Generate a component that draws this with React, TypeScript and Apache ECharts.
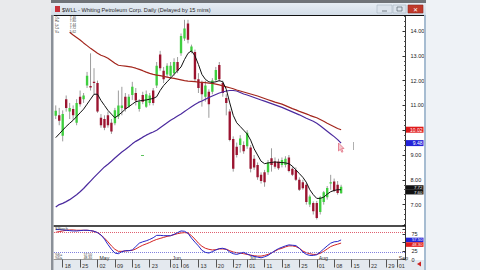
import React, { useEffect, useRef } from "react";
import * as echarts from "echarts";

// ---------- data ----------
const startDate = "2016-04-14";
const endDate = "2016-09-06";
const holidays = ["2016-05-30", "2016-07-04", "2016-09-05"];
const dayLabelDates = [
  "2016-04-18", "2016-04-25", "2016-05-02", "2016-05-09", "2016-05-16", "2016-05-23",
  "2016-06-01", "2016-06-06", "2016-06-13", "2016-06-20", "2016-06-27", "2016-07-01",
  "2016-07-11", "2016-07-18", "2016-07-25", "2016-08-01", "2016-08-08", "2016-08-15",
  "2016-08-22", "2016-08-29", "2016-09-01",
];
const monthLabelDates = ["2016-05-02", "2016-06-01", "2016-07-01", "2016-08-01", "2016-09-01"];
const monthLabelNames = ["May", "Jun", "Jul", "Aug", "Sep"];

const opens = [10.58, 10.6, 9.78, 11.25, 10.75, 10.85, 10.3, 11.35, 11.25, 11.8, 11.78, 11.95, 11.9, 10.5, 10.45, 10.6, 10.3, 10.28, 10.55, 10.9, 11.35, 10.95, 11.42, 11.5, 10.85, 11.42, 10.95, 11.1, 11.6, 11.8, 13.05, 12.4, 12.25, 12.2, 12.3, 12.75, 13.1, 13.7, 14.3, 13.17, 13.15, 12.05, 11.9, 11.35, 11.55, 11.55, 12.02, 12.63, 11.9, 11.3, 10.75, 9.65, 9.33, 9.4, 9.4, 9.35, 9.3, 8.85, 8.6, 8.2, 8.3, 8.3, 8.87, 8.74, 8.74, 8.6, 8.6, 8.9, 8.45, 8.4, 8.0, 7.9, 7.8, 7.0, 7.06, 7.06, 6.7, 7.1, 7.3, 7.85, 7.93, 7.8, 7.46];
const highs = [11.0, 10.9, 10.8, 11.4, 11.1, 11.0, 11.25, 11.6, 11.5, 12.35, 13.1, 12.5, 12.0, 10.65, 10.6, 10.75, 10.45, 10.9, 11.6, 11.75, 11.5, 11.45, 11.95, 11.7, 11.25, 11.55, 11.6, 11.5, 11.7, 12.75, 13.2, 12.55, 12.7, 12.75, 12.9, 12.95, 13.9, 14.45, 14.45, 13.45, 13.25, 12.3, 12.0, 12.0, 11.65, 12.1, 12.55, 12.75, 12.0, 11.45, 10.85, 9.75, 9.5, 9.8, 9.55, 10.0, 9.4, 9.0, 8.7, 8.3, 8.4, 8.8, 9.27, 8.9, 8.85, 8.9, 8.95, 9.0, 8.55, 8.5, 8.1, 8.0, 7.9, 7.4, 7.13, 7.15, 7.35, 7.55, 7.75, 8.2, 8.05, 7.95, 7.8];
const lows = [10.45, 10.2, 9.55, 10.75, 10.45, 10.4, 10.2, 10.95, 11.1, 11.7, 11.6, 11.45, 10.7, 10.1, 10.0, 10.1, 9.85, 10.2, 10.45, 10.6, 10.75, 10.9, 11.22, 11.0, 10.75, 11.05, 10.9, 11.0, 11.0, 11.7, 12.4, 11.9, 12.15, 12.1, 12.2, 12.3, 13.0, 13.6, 13.5, 13.1, 11.95, 11.5, 10.95, 11.15, 10.5, 11.45, 11.95, 11.95, 11.35, 10.6, 9.55, 8.33, 8.9, 9.1, 9.05, 9.25, 8.3, 8.4, 8.0, 7.85, 7.72, 8.2, 8.33, 8.45, 8.4, 8.5, 8.5, 8.3, 8.15, 7.95, 7.55, 7.6, 7.0, 6.9, 6.6, 6.4, 6.6, 7.0, 7.2, 7.6, 7.5, 7.4, 7.44];
const closes = [10.78, 10.38, 10.65, 10.9, 10.9, 10.6, 11.1, 11.05, 11.4, 12.2, 11.72, 11.9, 10.75, 10.2, 10.1, 10.2, 9.95, 10.8, 11.0, 11.0, 10.85, 11.35, 11.75, 11.2, 11.15, 11.15, 11.45, 11.4, 11.1, 12.6, 12.5, 12.05, 12.6, 12.6, 12.75, 12.4, 13.8, 14.1, 13.65, 13.37, 12.05, 11.7, 11.45, 11.8, 11.05, 12.0, 12.43, 12.05, 11.5, 11.1, 9.6, 8.45, 9.0, 9.67, 9.15, 9.9, 8.45, 8.5, 8.1, 7.95, 7.9, 8.7, 8.6, 8.53, 8.47, 8.8, 8.85, 8.35, 8.2, 8.0, 7.6, 7.66, 7.1, 7.33, 6.73, 6.46, 7.3, 7.5, 7.67, 7.9, 7.55, 7.47, 7.72];

const maShort = [9.7, 9.85, 10.0, 10.15, 10.28, 10.4, 10.55, 10.7, 10.85, 11.05, 11.25, 11.45, 11.45, 11.2, 11.0, 10.8, 10.65, 10.5, 10.6, 10.72, 10.85, 10.95, 11.05, 11.15, 11.18, 11.2, 11.22, 11.25, 11.28, 11.35, 11.6, 11.8, 11.95, 12.1, 12.25, 12.4, 12.55, 12.85, 13.1, 13.2, 13.0, 12.65, 12.25, 12.05, 11.95, 11.93, 11.95, 12.0, 11.95, 11.65, 11.1, 10.6, 10.3, 10.15, 10.0, 9.85, 9.6, 9.25, 9.0, 8.75, 8.65, 8.68, 8.7, 8.72, 8.7, 8.7, 8.68, 8.65, 8.55, 8.4, 8.25, 8.1, 7.9, 7.6, 7.4, 7.25, 7.25, 7.3, 7.42, 7.52, 7.57, 7.6, 7.6];
const maMid = [null, null, null, null, 13.95, 13.84, 13.74, 13.64, 13.52, 13.41, 13.3, 13.2, 13.1, 13.02, 12.97, 12.9, 12.8, 12.7, 12.62, 12.6, 12.58, 12.56, 12.54, 12.5, 12.45, 12.4, 12.34, 12.29, 12.25, 12.22, 12.2, 12.17, 12.14, 12.11, 12.09, 12.06, 12.03, 12.0, 11.98, 11.97, 11.96, 11.94, 11.93, 11.92, 11.9, 11.89, 11.86, 11.83, 11.79, 11.75, 11.71, 11.67, 11.62, 11.58, 11.54, 11.5, 11.46, 11.42, 11.38, 11.33, 11.28, 11.23, 11.18, 11.13, 11.09, 11.05, 10.99, 10.93, 10.87, 10.82, 10.76, 10.71, 10.66, 10.6, 10.55, 10.5, 10.43, 10.36, 10.28, 10.21, 10.14, 10.07, 10.02];
const maLong = [6.9, 7.0, 7.05, 7.12, 7.2, 7.3, 7.4, 7.52, 7.65, 7.8, 7.95, 8.1, 8.24, 8.38, 8.52, 8.63, 8.75, 8.88, 9.0, 9.12, 9.22, 9.33, 9.45, 9.55, 9.63, 9.72, 9.8, 9.87, 9.93, 10.0, 10.1, 10.2, 10.3, 10.4, 10.48, 10.57, 10.65, 10.75, 10.85, 10.95, 11.04, 11.12, 11.18, 11.25, 11.32, 11.38, 11.44, 11.5, 11.54, 11.58, 11.6, 11.6, 11.58, 11.52, 11.46, 11.42, 11.37, 11.32, 11.27, 11.22, 11.17, 11.12, 11.07, 11.02, 10.97, 10.92, 10.86, 10.8, 10.74, 10.68, 10.62, 10.55, 10.48, 10.42, 10.36, 10.28, 10.18, 10.07, 9.96, 9.85, 9.74, 9.62, 9.48];

const stochK = [88, 88, 87, 86, 85, 84, 84, 85, 86, 86, 85, 83, 79, 72, 60, 44, 30, 19, 17, 23, 26, 26, 28, 38, 48, 52, 55, 59, 64, 71, 71, 70, 70, 70, 74, 79, 84, 83, 77, 63, 51, 40, 27, 21, 19, 23, 28, 32, 33, 30, 22, 17, 15, 18, 21, 16, 12, 9, 7, 5, 8, 12, 19, 26, 32, 36, 40, 43, 42, 41, 33, 22, 15, 12, 12, 14, 22, 31, 40, 48, 52, 53, 57.5];
const stochD = [80, 82, 84, 86, 87, 87, 86, 86, 86, 86, 85, 83, 79, 72, 63, 52, 40, 30, 24, 24, 25, 26, 27, 31, 37, 42, 46, 50, 55, 59, 62, 65, 68, 70, 73, 76, 78, 79, 78, 70, 60, 48, 39, 33, 30, 28, 29, 31, 31, 30, 26, 22, 20, 19, 17, 15, 13, 11, 10, 10, 12, 15, 19, 25, 30, 33, 37, 40, 40, 38, 33, 25, 20, 17, 15, 15, 18, 24, 31, 38, 42, 45, 48.3];

const priceLabelMin = 7;
const priceLabelMax = 14;
const stochLabels = [0, 25, 75];
const volumeText = "5.62";

const FONT = "Liberation Sans, Arial, sans-serif";

function buildDays(): string[] {
  const out: string[] = [];
  const d = new Date(startDate + "T00:00:00Z");
  const end = new Date(endDate + "T00:00:00Z");
  while (d.getTime() <= end.getTime()) {
    const wd = d.getUTCDay();
    const s = d.toISOString().slice(0, 10);
    if (wd !== 0 && wd !== 6 && holidays.indexOf(s) < 0) out.push(s);
    d.setUTCDate(d.getUTCDate() + 1);
  }
  return out;
}

export default function App() {
  const ref = useRef<HTMLDivElement>(null);
  useEffect(() => {
    if (!ref.current) return;
    const chart = echarts.init(ref.current, undefined, { renderer: "svg", width: 480, height: 270 });
    const days = buildDays();
    const daySet = new Set(dayLabelDates);
    const monthMap: Record<string, string> = {};
    monthLabelDates.forEach((d, i) => (monthMap[d] = monthLabelNames[i]));
    const last = closes.length - 1;
    const boxedPrices = [maMid[last] as number, maLong[last]];

    const candleData = opens.map((o, i) => [i, o, highs[i], lows[i], closes[i]]);

    const renderItem = (params: any, api: any) => {
      const i = api.value(0);
      const o = api.value(1);
      const h = api.value(2);
      const l = api.value(3);
      const c = api.value(4);
      const pH = api.coord([i, h]);
      const pL = api.coord([i, l]);
      const pO = api.coord([i, o]);
      const pC = api.coord([i, c]);
      const w = api.size([1, 0])[0] * 0.68;
      const up = c >= o;
      const top = Math.min(pO[1], pC[1]);
      const hgt = Math.max(1, Math.abs(pO[1] - pC[1]));
      return {
        type: "group",
        children: [
          { type: "line", shape: { x1: pH[0], y1: pH[1], x2: pL[0], y2: pL[1] }, style: { stroke: "#9c9c9c", lineWidth: 1 } },
          { type: "rect", shape: { x: pO[0] - w / 2, y: top, width: w, height: hgt }, style: { fill: up ? "#3fcf3f" : "#9b1430" } },
        ],
      };
    };

    const option: any = {
      animation: false,
      backgroundColor: "#ffffff",
      grid: [
        { left: 54, right: 74.5, top: 6.2, bottom: 40.6 },
        { left: 54, right: 74.5, top: 225.5, bottom: 10.5 },
      ],
      xAxis: [
        { type: "category", data: days, gridIndex: 0, axisLine: { show: false }, axisTick: { show: false }, axisLabel: { show: false }, splitLine: { show: false } },
        {
          type: "category", data: days, gridIndex: 1, position: "bottom",
          axisLine: { show: true, lineStyle: { color: "#9a9a9a", width: 1 } },
          axisTick: { show: true, alignWithLabel: true, interval: (idx: number, v: string) => daySet.has(v), length: 8, lineStyle: { color: "#555", width: 1 } },
          axisLabel: { interval: (idx: number, v: string) => daySet.has(v), formatter: (v: string) => v.slice(8), align: "left", padding: [0, 0, 0, 2], fontSize: 5.5, color: "#333", margin: 3, fontFamily: FONT },
        },
        {
          type: "category", data: days, gridIndex: 1, position: "bottom",
          axisLine: { show: false }, axisTick: { show: false },
          axisLabel: { interval: (idx: number, v: string) => !!monthMap[v], formatter: (v: string) => monthMap[v] || "", align: "left", padding: [0, 0, 0, 2], fontSize: 5.2, color: "#333", margin: -3.8, fontFamily: FONT },
        },
      ],
      yAxis: [
        {
          type: "value", gridIndex: 0, position: "right", min: 6, max: 15, interval: 1,
          axisLine: { show: true, lineStyle: { color: "#333", width: 1 } },
          axisTick: { show: true, inside: true, length: 3, lineStyle: { color: "#333" } },
          minorTick: { show: true, splitNumber: 5, length: 1.5, lineStyle: { color: "#555" } },
          splitLine: { show: false },
          axisLabel: {
            fontSize: 5.5, color: "#222", margin: 5, fontFamily: FONT,
            formatter: (v: number) => {
              if (v < priceLabelMin || v > priceLabelMax) return "";
              if (boxedPrices.some((b) => Math.abs(b - v) < 0.25)) return "";
              return v.toFixed(2);
            },
          },
        },
        {
          type: "value", gridIndex: 1, position: "right", min: 0, max: 100, interval: 25,
          axisLine: { show: true, lineStyle: { color: "#333", width: 1 } },
          axisTick: { show: true, inside: true, length: 3, lineStyle: { color: "#333" } },
          splitLine: { show: false },
          axisLabel: { fontSize: 5.5, color: "#222", margin: 6, fontFamily: FONT, formatter: (v: number) => (stochLabels.indexOf(v) >= 0 ? String(v) : "") },
        },
      ],
      series: [
        { type: "custom", name: "price", xAxisIndex: 0, yAxisIndex: 0, renderItem, data: candleData, encode: { x: 0, y: [1, 2, 3, 4] }, clip: true, z: 3 },
        { type: "line", name: "ma200", xAxisIndex: 0, yAxisIndex: 0, data: maLong, symbol: "none", lineStyle: { color: "#4b2a9e", width: 1.2 }, z: 4 },
        { type: "line", name: "ma50", xAxisIndex: 0, yAxisIndex: 0, data: maMid, symbol: "none", lineStyle: { color: "#a3261d", width: 1.2 }, z: 4 },
        { type: "line", name: "ma10", xAxisIndex: 0, yAxisIndex: 0, data: maShort, symbol: "none", lineStyle: { color: "#111111", width: 1 }, z: 5 },
        {
          type: "line", name: "%D", xAxisIndex: 1, yAxisIndex: 1, data: stochD, symbol: "none", lineStyle: { color: "#d42222", width: 1 }, z: 4,
          markLine: {
            silent: true, symbol: "none", label: { show: false },
            data: [
              { yAxis: 80, lineStyle: { color: "#e06070", type: "dotted", width: 1 } },
              { yAxis: 20, lineStyle: { color: "#8080dd", type: "dotted", width: 1 } },
            ],
          },
        },
        { type: "line", name: "%K", xAxisIndex: 1, yAxisIndex: 1, data: stochK, symbol: "none", lineStyle: { color: "#2626c8", width: 1 }, z: 5 },
      ],
    };
    chart.setOption(option);

    const py = (v: number) => chart.convertToPixel({ yAxisIndex: 0 }, v) as number;
    const sy = (v: number) => chart.convertToPixel({ yAxisIndex: 1 }, v) as number;
    const box = (y: number, fill: string, txt: string, h = 6, fs = 5) => ({
      type: "group", z: 20, children: [
        { type: "rect", shape: { x: 406, y: y - h / 2, width: 17.5, height: h }, style: { fill } },
        { type: "text", x: 422.5, y: y, style: { text: txt, fill: "#ffffff", fontSize: fs, fontFamily: FONT, align: "right", verticalAlign: "middle" } },
      ],
    });
    const legendRows = [
      ["O=", opens[last].toFixed(2)],
      ["H=", highs[last].toFixed(2)],
      ["L=", lows[last].toFixed(2)],
      ["C=", closes[last].toFixed(2)],
      ["V=", volumeText],
    ];
    const kY = sy(stochK[last]);
    const cY = py(closes[last]);
    const graphics: any[] = [
      // outside page areas
      { type: "rect", z: 30, shape: { x: 0, y: 0, width: 51, height: 270 }, style: { fill: "#e9eaec" } },
      { type: "rect", z: 30, shape: { x: 426, y: 0, width: 54, height: 270 }, style: { fill: "#eef2f6" } },
      { type: "rect", z: 30, shape: { x: 51, y: 0, width: 375, height: 3 }, style: { fill: "#6f7378" } },
      // title bar
      {
        type: "rect", z: 30, shape: { x: 51, y: 3, width: 375, height: 12 },
        style: { fill: new echarts.graphic.LinearGradient(0, 0, 0, 1, [{ offset: 0, color: "#e6edf4" }, { offset: 1, color: "#d3dde8" }]) },
      },
      { type: "rect", z: 31, shape: { x: 55, y: 6, width: 5, height: 6 }, style: { fill: "#c8323c" } },
      { type: "text", z: 31, x: 62, y: 9.5, style: { text: "$WLL - Whiting Petroleum Corp. Daily (Delayed by 15 mins)", fill: "#2a2a2a", fontSize: 5.6, fontFamily: FONT, verticalAlign: "middle" } },
      { type: "rect", z: 31, shape: { x: 377, y: 5, width: 15, height: 8 }, style: { fill: "#dbe3ec", stroke: "#a9b6c4", lineWidth: 0.6 } },
      { type: "rect", z: 31, shape: { x: 393, y: 5, width: 13, height: 8 }, style: { fill: "#dbe3ec", stroke: "#a9b6c4", lineWidth: 0.6 } },
      { type: "rect", z: 31, shape: { x: 408, y: 5, width: 15, height: 8 }, style: { fill: "#c0392b", stroke: "#8e2a20", lineWidth: 0.6 } },
      { type: "text", z: 32, x: 415.5, y: 9, style: { text: "✕", fill: "#ffffff", fontSize: 6, fontFamily: "DejaVu Sans", align: "center", verticalAlign: "middle" } },
      { type: "line", z: 32, shape: { x1: 382, y1: 11, x2: 387, y2: 11 }, style: { stroke: "#5a6470", lineWidth: 0.8 } },
      { type: "rect", z: 32, shape: { x: 397, y: 7, width: 5, height: 4 }, style: { fill: "none", stroke: "#5a6470", lineWidth: 0.7 } },
      // window borders
      { type: "rect", z: 29, shape: { x: 50.5, y: 15, width: 3, height: 255 }, style: { fill: "#8a9098" } },
      { type: "rect", z: 29, shape: { x: 424, y: 3, width: 2.5, height: 267 }, style: { fill: "#a6bcd1" } },
      // top border & separator
      { type: "line", z: 25, shape: { x1: 53.5, y1: 15.5, x2: 424, y2: 15.5 }, style: { stroke: "#111", lineWidth: 1.2 } },
      { type: "line", z: 25, shape: { x1: 53.5, y1: 226, x2: 405.5, y2: 226 }, style: { stroke: "#111", lineWidth: 1.6 } },
      // date area background
      { type: "rect", z: -1, shape: { x: 53.5, y: 260, width: 370.5, height: 10 }, style: { fill: "#e4e9ef" } },
      // scroll arrow
      { type: "polygon", z: 26, shape: { points: [[417, 264], [421, 261.5], [421, 266.5]] }, style: { fill: "#cc2222" } },
      // cursor & misc marks
      { type: "polygon", z: 26, shape: { points: [[338.5, 143], [338.5, 151], [340.3, 149.3], [341.8, 152.3], [343, 151.6], [341.6, 148.7], [344, 148.5]] }, style: { fill: "#f6c9cf", stroke: "#e06d80", lineWidth: 0.8 } },
      { type: "line", z: 26, shape: { x1: 353.5, y1: 142, x2: 353.5, y2: 150 }, style: { stroke: "#b0b0b0", lineWidth: 1 } },
      { type: "line", z: 26, shape: { x1: 141, y1: 155.5, x2: 144, y2: 155.5 }, style: { stroke: "#5cc45c", lineWidth: 1 } },
      // axis value boxes
      box(py(maMid[last] as number), "#e01b1b", (maMid[last] as number).toFixed(2)),
      box(py(maLong[last]), "#2323d8", maLong[last].toFixed(2)),
      box(cY + 0.8, "#111111", closes[last].toFixed(2), 4.6, 4.4),
      box(cY + 5.4, "#111111", maShort[last].toFixed(2), 4.6, 4.4),
      box(kY, "#2323d8", stochK[last].toFixed(2), 4.6, 4.2),
      box(kY + 4.6, "#e01b1b", stochD[last].toFixed(2), 4.6, 4.2),
      // oscillator legend
      { type: "text", z: 26, x: 55, y: 228.5, style: { text: "SStoch", fill: "#333", fontSize: 4, fontFamily: FONT, verticalAlign: "middle" } },
      { type: "text", z: 26, x: 55, y: 254.6, style: { text: "%K=", fill: "#333", fontSize: 3.3, fontFamily: FONT, verticalAlign: "middle" } },
      { type: "text", z: 26, x: 92, y: 254.6, style: { text: stochK[last].toFixed(2), fill: "#333", fontSize: 3.3, fontFamily: FONT, align: "right", verticalAlign: "middle" } },
      { type: "text", z: 26, x: 55, y: 258.2, style: { text: "%D=", fill: "#333", fontSize: 3.3, fontFamily: FONT, verticalAlign: "middle" } },
      { type: "text", z: 26, x: 92, y: 258.2, style: { text: stochD[last].toFixed(2), fill: "#333", fontSize: 3.3, fontFamily: FONT, align: "right", verticalAlign: "middle" } },
    ];
    legendRows.forEach((r, k) => {
      graphics.push({ type: "text", z: 26, x: 55, y: 17.6 + k * 3.45, style: { text: r[0], fill: "#333", fontSize: 3.2, fontFamily: FONT, verticalAlign: "middle" } });
      graphics.push({ type: "text", z: 26, x: 76, y: 17.6 + k * 3.45, style: { text: r[1], fill: "#333", fontSize: 3.2, fontFamily: FONT, align: "right", verticalAlign: "middle" } });
    });
    chart.setOption({ graphic: graphics });

    return () => chart.dispose();
  }, []);
  return <div ref={ref} style={{ position: "fixed", left: 0, top: 0, width: 480, height: 270 }} />;
}
